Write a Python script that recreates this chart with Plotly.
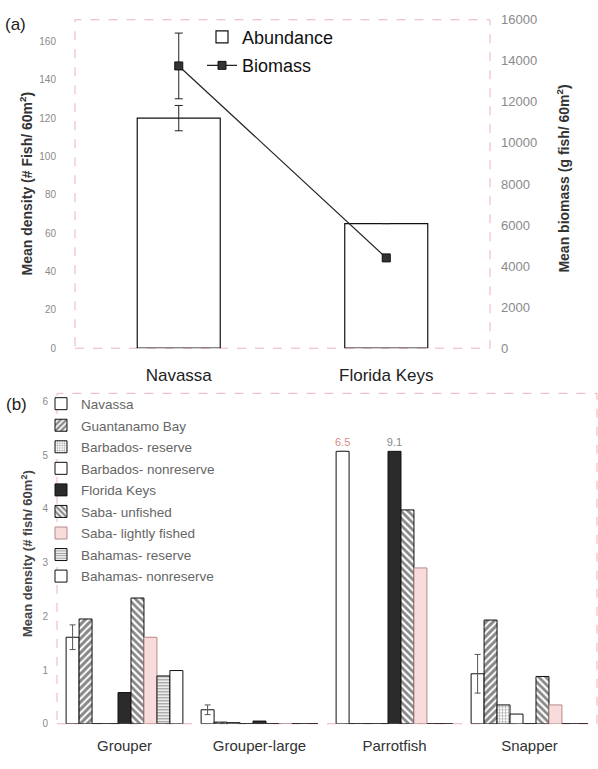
import plotly.graph_objects as go

W, H = 598, 769

# ---------------- Panel (a) data ----------------
sites_a = ["Navassa", "Florida Keys"]
abundance = [120.0, 65.0]
abundance_err = [6.6, 0]
biomass = [13750, 4400]
biomass_err = [1600, 0]

# ---------------- Panel (b) data ----------------
groups_b = ["Grouper", "Grouper-large", "Parrotfish", "Snapper"]
series_b = [
    "Navassa", "Guantanamo Bay", "Barbados- reserve", "Barbados- nonreserve",
    "Florida Keys", "Saba- unfished", "Saba- lightly fished",
    "Bahamas- reserve", "Bahamas- nonreserve",
]
navassa_b = [1.61, 0.26, 6.5, 0.93]
navassa_b_err = [0.23, 0.09, 0, 0.36]
guantanamo_b = [1.95, 0.03, 0, 1.93]
barbados_res_b = [0, 0.02, 0, 0.35]
barbados_non_b = [0, 0, 0, 0.18]
florida_b = [0.58, 0.05, 9.1, 0]
saba_unf_b = [2.34, 0, 3.98, 0.88]
saba_lf_b = [1.61, 0, 2.9, 0.35]
bahamas_res_b = [0.89, 0, 0, 0]
bahamas_non_b = [0.99, 0, 0, 0]
values_b = [navassa_b, guantanamo_b, barbados_res_b, barbados_non_b, florida_b,
            saba_unf_b, saba_lf_b, bahamas_res_b, bahamas_non_b]
BREAK_AT = 5.07  # bars taller than this are drawn broken, true value written above

FONT = "Liberation Sans"
PINK = "#ebb3bb"

def px_x(p):
    return p / W

def px_y(p):
    return 1 - p / H

fig = go.Figure()

# Panel (a)
fig.add_trace(go.Bar(
    x=sites_a, y=abundance, name="Abundance", width=0.4,
    marker=dict(color="white", line=dict(color="#111", width=1.2)),
    error_y=dict(type="data", array=abundance_err, color="#222", thickness=1, width=4),
    xaxis="x", yaxis="y", legend="legend", legendgroup="ab",
))
fig.add_trace(go.Scatter(
    x=sites_a, y=biomass, name="Biomass", mode="lines+markers",
    line=dict(color="#222", width=1.2),
    marker=dict(symbol="square", size=8, color="#333", line=dict(color="#111", width=1)),
    error_y=dict(type="data", array=biomass_err, color="#222", thickness=1, width=4),
    xaxis="x", yaxis="y2", legend="legend", legendgroup="bm",
))

# Panel (b)
styles = [
    dict(color="white"),
    dict(color="white", pattern=dict(shape="/", fgcolor="#111", bgcolor="white", size=5, solidity=0.6)),
    dict(color="white", pattern=dict(shape="+", fgcolor="#555", bgcolor="white", size=3, solidity=0.4)),
    dict(color="white"),
    dict(color="#2b2b2b"),
    dict(color="white", pattern=dict(shape="\\", fgcolor="#111", bgcolor="white", size=5, solidity=0.55)),
    dict(color="#f8dcdc"),
    dict(color="white", pattern=dict(shape="-", fgcolor="#222", bgcolor="white", size=3, solidity=0.45)),
    dict(color="white"),
]
text_colors = ["#d98a8a", "#888", "#888", "#888", "#888", "#888", "#888", "#888", "#888"]

for i, (name, vals) in enumerate(zip(series_b, values_b)):
    shown = [min(v, BREAK_AT) for v in vals]
    labels = [f"{v:g}" if v > BREAK_AT else "" for v in vals]
    positions = ["outside" if lab else "none" for lab in labels]
    mk = dict(styles[i])
    mk["line"] = dict(color="#b58a8a" if i == 6 else "#111", width=1)
    kw = {}
    if i == 0:
        kw["error_y"] = dict(type="data", array=navassa_b_err, color="#555", thickness=1, width=3)
    if any(labels):
        kw.update(text=labels, textposition=positions, constraintext="none", cliponaxis=False,
                  textfont=dict(size=11, color=text_colors[i], family=FONT))
    fig.add_trace(go.Bar(
        x=groups_b, y=shown, name=name, marker=mk,
        xaxis="x2", yaxis="y3", legend="legend2", legendgroup=name, **kw,
    ))

tickfont_small = dict(family=FONT, size=10, color="#8a8a8a")

fig.update_layout(
    width=W, height=H, margin=dict(l=0, r=0, t=0, b=0),
    paper_bgcolor="white", plot_bgcolor="white",
    font=dict(family=FONT, color="#222"),
    barmode="group", bargap=0.135, bargroupgap=0,
    xaxis=dict(domain=[px_x(75), px_x(490)], anchor="y", range=[-0.5, 1.5],
               showgrid=False, zeroline=False, showline=False, ticks="",
               tickfont=dict(family=FONT, size=17, color="#222"), ticklabelstandoff=15),
    yaxis=dict(domain=[px_y(348), px_y(13)], anchor="x", range=[0, 171.3],
               tick0=0, dtick=20, showgrid=False, zeroline=False, showline=False, ticks="",
               tickfont=tickfont_small, ticklabelstandoff=18),
    yaxis2=dict(overlaying="y", side="right", anchor="x", range=[0, 16000],
                tick0=0, dtick=2000, tickformat="d",
                showgrid=False, zeroline=False, showline=False, ticks="",
                tickfont=dict(family=FONT, size=13, color="#8a8a8a"), ticklabelstandoff=10),
    xaxis2=dict(domain=[px_x(57), px_x(597)], anchor="y3", range=[-0.5, 3.5],
                showgrid=False, zeroline=False, showline=False, ticks="",
                tickfont=dict(family=FONT, size=15, color="#333"), ticklabelstandoff=11),
    yaxis3=dict(domain=[px_y(731), px_y(394)], anchor="x2", range=[0, 6.15],
                tick0=0, dtick=1, showgrid=False, zeroline=False, showline=False, ticks="",
                tickfont=tickfont_small, ticklabelstandoff=8),
    legend=dict(x=px_x(202), y=px_y(12), xanchor="left", yanchor="top",
                bgcolor="rgba(0,0,0,0)", font=dict(family=FONT, size=18, color="#111"),
                traceorder="grouped", tracegroupgap=2, itemwidth=30),
    legend2=dict(x=px_x(41), y=px_y(389), xanchor="left", yanchor="top",
                 bgcolor="rgba(0,0,0,0)", font=dict(family=FONT, size=13.5, color="#666"),
                 traceorder="grouped", tracegroupgap=1, itemwidth=30),
    shapes=[
        dict(type="rect", xref="x domain", yref="y domain", x0=0, x1=1, y0=0, y1=1,
             line=dict(color=PINK, width=1, dash="dash"), layer="below"),
        dict(type="rect", xref="x2 domain", yref="y3 domain", x0=0, x1=1, y0=0, y1=1,
             line=dict(color=PINK, width=1, dash="dash"), layer="below"),
    ],
    annotations=[
        dict(text="(a)", x=px_x(3), y=px_y(18), xref="paper", yref="paper",
             xanchor="left", yanchor="middle", showarrow=False,
             font=dict(family=FONT, size=17, color="#222")),
        dict(text="(b)", x=px_x(4), y=px_y(405), xref="paper", yref="paper",
             xanchor="left", yanchor="middle", showarrow=False,
             font=dict(family=FONT, size=17, color="#222")),
        dict(text="<b>Mean density (# Fish/ 60m<sup>2</sup>)</b>", x=px_x(27), y=px_y(180),
             xref="paper", yref="paper", textangle=-90, showarrow=False,
             xanchor="center", yanchor="middle", font=dict(family=FONT, size=14, color="#333")),
        dict(text="<b>Mean biomass (g fish/ 60m<sup>2</sup>)</b>", x=px_x(563), y=px_y(175),
             xref="paper", yref="paper", textangle=-90, showarrow=False,
             xanchor="center", yanchor="middle", font=dict(family=FONT, size=14, color="#333")),
        dict(text="<b>Mean density (# fish/ 60m<sup>2</sup>)</b>", x=px_x(27), y=px_y(558),
             xref="paper", yref="paper", textangle=-90, showarrow=False,
             xanchor="center", yanchor="middle", font=dict(family=FONT, size=13, color="#444")),
    ],
)

fig.write_html("out.html", config={"displayModeBar": False},
               post_script="document.body.style.margin='0px';")
